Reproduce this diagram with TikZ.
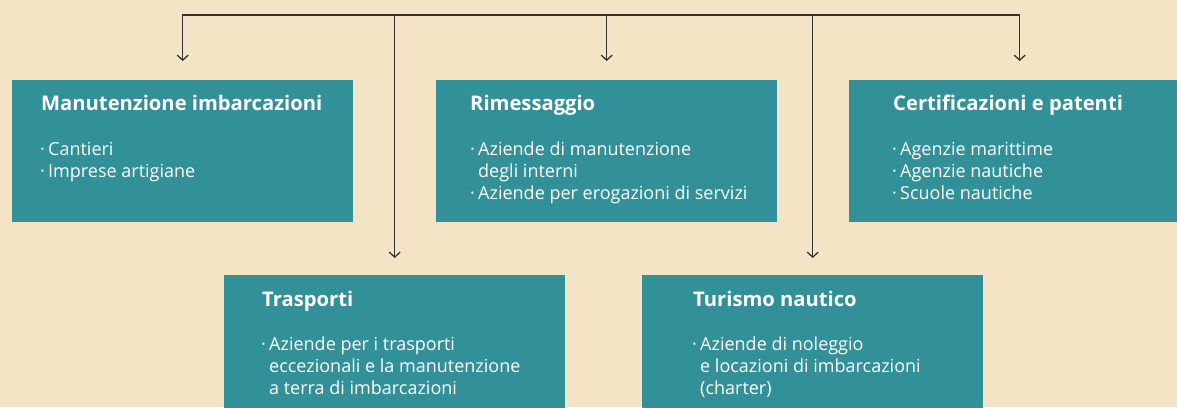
\documentclass[tikz,border=0pt]{standalone}
\usepackage{fontspec}
\setmainfont{Open Sans}
\usetikzlibrary{arrows.meta}
\definecolor{bgbeige}{RGB}{243,228,198}
\definecolor{boxteal}{RGB}{50,144,153}
\definecolor{linegray}{RGB}{51,51,51}
\newcommand\bul{\makebox[8pt][l]{·}}
\newcommand\nobul{\hspace*{8pt}}
\begin{document}
\begin{tikzpicture}[x=1pt,y=-1pt,
  box/.style={fill=boxteal, minimum width=341pt, minimum height=142pt, inner sep=0pt, anchor=north west},
  ttl/.style={anchor=base west, inner sep=0pt, text=white, font=\fontsize{20.2}{22}\selectfont\bfseries},
  itm/.style={anchor=base west, inner sep=0pt, text=white, font=\fontsize{18}{22}\selectfont},
  link/.style={draw=linegray, line width=1.3pt},
  conn/.style={link, -{Straight Barb[length=5pt,width=11pt,line width=1.3pt]}}]
\useasboundingbox (0,0) rectangle (1177,407);
\fill[bgbeige] (0,0) rectangle (1177,407);
\begin{scope}
\clip (0,0) rectangle (1177,407);
\node[box] (b1) at (12,80) {};
\node[box] (b2) at (436,80) {};
\node[box] (b3) at (849,80) {};
\node[box] (b4) at (224,275) {};
\node[box] (b5) at (642,275) {};
\end{scope}
% connectors
\coordinate (h1) at (b1.north |- 0,15);
\coordinate (h2) at (b2.north |- 0,15);
\coordinate (h3) at (b3.north |- 0,15);
\coordinate (h4) at (b4.north |- 0,15);
\coordinate (h5) at (b5.north |- 0,15);
\draw[conn] (h3) -- (h1) -- ([yshift=19pt]b1.north);
\draw[conn] (h1) -- (h3) -- ([yshift=19pt]b3.north);
\draw[conn] (h2) -- ([yshift=19pt]b2.north);
\draw[conn] (h4) -- ([yshift=17pt]b4.north);
\draw[conn] (h5) -- ([yshift=17pt]b5.north);
% box 1
\node[ttl] (t1) at (41,110) {Manutenzione imbarcazioni};
\node[itm] (t1a) at (40,155) {\bul Cantieri};
\node[itm] (t1b) at (40,177) {\bul Imprese artigiane};
% box 2
\node[ttl] (t2) at (470,110) {Rimessaggio};
\node[itm] (t2a) at (470,155) {\bul Aziende di manutenzione};
\node[itm] (t2b) at (470,177) {\nobul degli interni};
\node[itm] (t2c) at (470,199) {\bul Aziende per erogazioni di servizi};
% box 3
\node[ttl] (t3) at (893,110) {Certificazioni e patenti};
\node[itm] (t3a) at (892,155) {\bul Agenzie marittime};
\node[itm] (t3b) at (892,177) {\bul Agenzie nautiche};
\node[itm] (t3c) at (892,199) {\bul Scuole nautiche};
% box 4
\node[ttl] (t4) at (262,306) {Trasporti};
\node[itm] (t4a) at (261,350) {\bul Aziende per i trasporti};
\node[itm] (t4b) at (261,372) {\nobul eccezionali e la manutenzione};
\node[itm] (t4c) at (261,394) {\nobul a terra di imbarcazioni};
% box 5
\node[ttl] (t5) at (693,306) {Turismo nautico};
\node[itm] (t5a) at (692,350) {\bul Aziende di noleggio};
\node[itm] (t5b) at (692,372) {\nobul e locazioni di imbarcazioni};
\node[itm] (t5c) at (692,394) {\nobul (charter)};
\end{tikzpicture}
\end{document}
